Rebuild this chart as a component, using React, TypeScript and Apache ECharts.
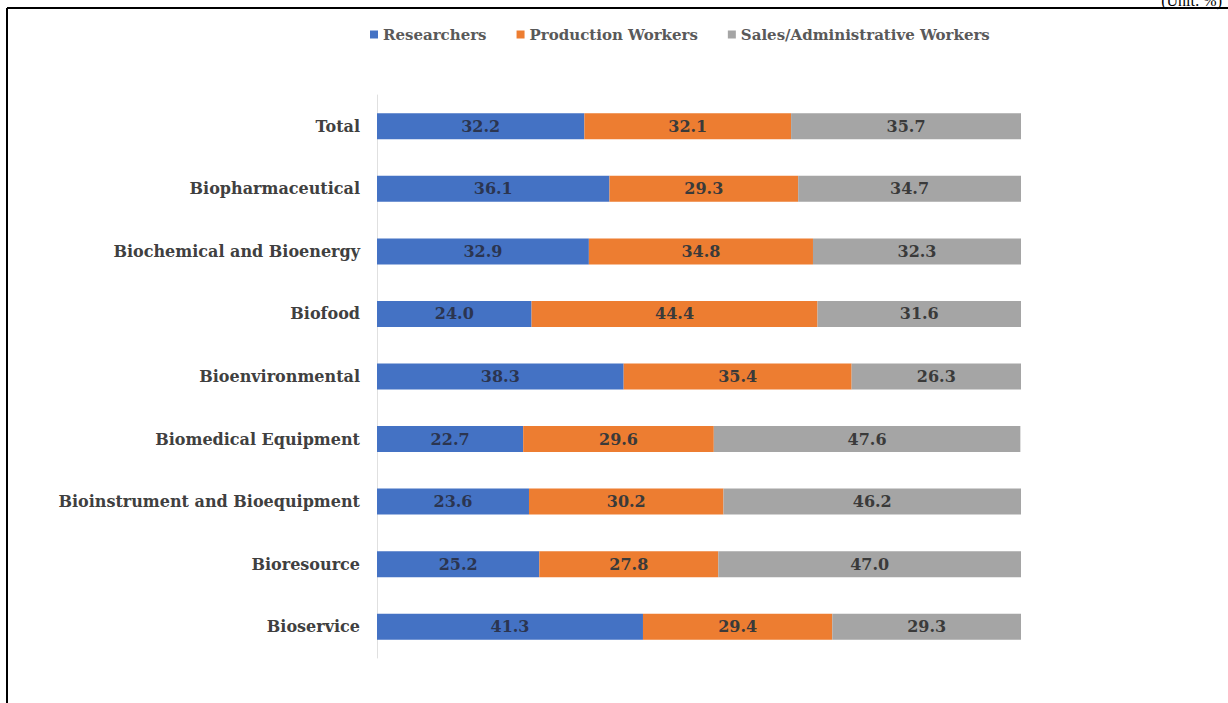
import React, { useEffect, useRef } from "react";
import * as echarts from "echarts";

const categories = [
  "Total",
  "Biopharmaceutical",
  "Biochemical and Bioenergy",
  "Biofood",
  "Bioenvironmental",
  "Biomedical Equipment",
  "Bioinstrument and Bioequipment",
  "Bioresource",
  "Bioservice",
];
const researchers = [32.2, 36.1, 32.9, 24.0, 38.3, 22.7, 23.6, 25.2, 41.3];
const production = [32.1, 29.3, 34.8, 44.4, 35.4, 29.6, 30.2, 27.8, 29.4];
const sales = [35.7, 34.7, 32.3, 31.6, 26.3, 47.6, 46.2, 47.0, 29.3];
const seriesNames = ["Researchers", "Production Workers", "Sales/Administrative Workers"];
const colors = ["#4472C4", "#ED7D31", "#A5A5A5"];

const FONT = "'DejaVu Serif', 'Liberation Serif', serif";
const UNIT_FONT = "'Liberation Serif', 'Times New Roman', serif";

export default function App() {
  const ref = useRef<HTMLDivElement>(null);
  useEffect(() => {
    if (!ref.current) return;
    const chart = echarts.init(ref.current, null, { renderer: "svg" });
    const mk = (name: string, data: number[], color: string, labelColor: string) => ({
      name,
      type: "bar",
      stack: "total",
      data,
      barWidth: 26,
      itemStyle: { color },
      label: {
        show: true,
        position: "inside",
        formatter: (p: any) => Number(p.value).toFixed(1),
        color: labelColor,
        fontFamily: FONT,
        fontWeight: "bold",
        fontSize: 16,
      },
    });
    chart.setOption({
      animation: false,
      backgroundColor: "#ffffff",
      legend: {
        top: 22,
        left: 365,
        itemWidth: 8,
        itemHeight: 8,
        itemGap: 30,
        icon: "rect",
        textStyle: { fontFamily: FONT, fontWeight: "bold", fontSize: 15, color: "#595959" },
        data: seriesNames,
      },
      grid: { left: 377, right: 207, top: 95, bottom: 45 },
      xAxis: { type: "value", min: 0, max: 100, show: false },
      yAxis: {
        type: "category",
        inverse: true,
        data: categories,
        axisLine: { show: true, lineStyle: { color: "#e0e0e0", width: 1 } },
        axisTick: { show: false },
        axisLabel: {
          margin: 17,
          fontFamily: FONT,
          fontWeight: "bold",
          fontSize: 16,
          color: "#404040",
        },
      },
      series: [
        mk(seriesNames[0], researchers, colors[0], "#2b3550"),
        mk(seriesNames[1], production, colors[1], "#3a3a3a"),
        mk(seriesNames[2], sales, colors[2], "#3a3a3a"),
      ],
      graphic: [
        { type: "line", shape: { x1: 7, y1: 8, x2: 1228, y2: 8 }, style: { stroke: "#000", lineWidth: 2 } },
        { type: "line", shape: { x1: 7, y1: 8, x2: 7, y2: 703 }, style: { stroke: "#000", lineWidth: 2 } },
        {
          type: "text",
          right: 6,
          top: -8,
          style: { text: "(Unit: %)", fontFamily: UNIT_FONT, fontSize: 16, fill: "#000" },
        },
      ],
    });
    return () => chart.dispose();
  }, []);
  return (
    <div
      ref={ref}
      style={{ position: "absolute", left: 0, top: 0, width: 1228, height: 703 }}
    />
  );
}
